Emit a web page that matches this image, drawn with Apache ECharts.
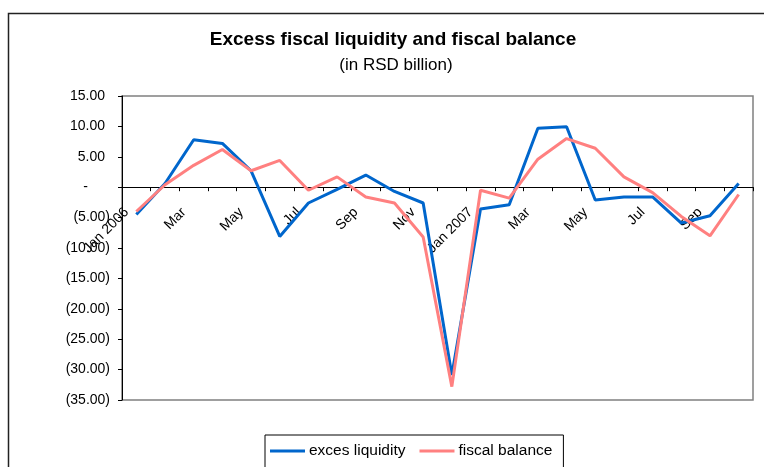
<!DOCTYPE html>
<html>
<head>
<meta charset="utf-8">
<script src="https://cdn.jsdelivr.net/npm/echarts@6/dist/echarts.min.js"></script>
<style>html,body{margin:0;padding:0;background:#fff}#c{width:764px;height:467px}</style>
</head>
<body>
<div id="c"></div>
<script>
var categories = ['Jan 2006','Feb','Mar','Apr','May','Jun','Jul','Aug','Sep','Oct','Nov','Dec',
                  'Jan 2007','Feb','Mar','Apr','May','Jun','Jul','Aug','Sep','Oct'];
var excesLiquidity = [-4.5, 0.6, 7.8, 7.2, 2.7, -8.1, -2.6, -0.35, 2.0, -0.7, -2.6, -30.9,
                      -3.6, -2.9, 9.7, 9.95, -2.1, -1.6, -1.6, -5.9, -4.7, 0.6];
var fiscalBalance = [-4.0, 0.4, 3.6, 6.2, 2.7, 4.4, -0.5, 1.7, -1.6, -2.6, -8.2, -32.8,
                     -0.5, -1.8, 4.6, 8.0, 6.4, 1.7, -0.9, -4.8, -8.0, -1.2];
var yTicks = {min: -35, max: 15, step: 5};
var seriesNames = ['exces liquidity', 'fiscal balance'];
var titleText = 'Excess fiscal liquidity and fiscal balance';
var subtitleText = '(in RSD billion)';

var FONT = 'Liberation Sans, Arial, sans-serif';
var GRID_TOP = 96, GRID_BOTTOM = 67, H = 467;
var gridH = H - GRID_TOP - GRID_BOTTOM;
// distance from the bottom of the plot to the zero line, so the category axis sits on zero
var zeroOffset = -gridH * (0 - yTicks.min) / (yTicks.max - yTicks.min);

var chart = echarts.init(document.getElementById('c'), null, {renderer: 'canvas'});
chart.setOption({
  animation: false,
  backgroundColor: '#fff',
  graphic: [
    {type: 'rect', left: 6, top: 11, shape: {width: 820, height: 520},
     style: {fill: 'none', stroke: '#222', lineWidth: 1.5}, silent: true, z: -1},
    {type: 'text', x: 393, y: 40, silent: true,
     style: {text: titleText, align: 'center', verticalAlign: 'middle',
             font: 'bold 19px ' + FONT, fill: '#000'}},
    {type: 'text', x: 396, y: 65, silent: true,
     style: {text: subtitleText, align: 'center', verticalAlign: 'middle',
             font: '17px ' + FONT, fill: '#000'}}
  ],
  grid: {left: 122, right: 11, top: GRID_TOP, bottom: GRID_BOTTOM, show: true, borderColor: '#808080', borderWidth: 1.5},
  legend: {
    data: seriesNames, top: 435, left: 265,
    icon: 'rect', itemWidth: 35, itemHeight: 3, itemGap: 14,
    padding: [8, 11, 20, 5],
    borderColor: '#000', borderWidth: 1,
    textStyle: {fontFamily: FONT, fontSize: 15.5, color: '#000', padding: [0, 0, 0, -1]}
  },
  xAxis: {
    type: 'category', data: categories, boundaryGap: true,
    position: 'bottom', offset: zeroOffset,
    axisLine: {onZero: false, lineStyle: {color: '#000', width: 1}},
    axisTick: {show: true, interval: 0, length: 4, lineStyle: {color: '#000'}},
    axisLabel: {interval: 1, rotate: 45, margin: 13, padding: [0, 14, 0, 0],
                fontFamily: FONT, fontSize: 14, color: '#000'},
    splitLine: {show: false}
  },
  yAxis: {
    type: 'value', min: yTicks.min, max: yTicks.max, interval: yTicks.step,
    axisLine: {show: true, lineStyle: {color: '#000', width: 1}},
    axisTick: {show: true, length: 4, lineStyle: {color: '#000'}},
    splitLine: {show: false},
    axisLabel: {
      margin: 12, fontFamily: FONT, fontSize: 14, color: '#000',
      formatter: function (v) {
        if (v > 0) return '{p|' + v.toFixed(2) + '}';
        if (v === 0) return '{z|-}';
        return '(' + Math.abs(v).toFixed(2) + ')';
      },
      rich: {
        p: {fontFamily: FONT, fontSize: 14, color: '#000', padding: [0, 5, 0, 0]},
        z: {fontFamily: FONT, fontSize: 14, color: '#000', padding: [0, 22, 0, 0]}
      }
    }
  },
  series: [
    {name: seriesNames[0], type: 'line', data: excesLiquidity, symbol: 'none',
     lineStyle: {color: '#0066CC', width: 3}, itemStyle: {color: '#0066CC'}},
    {name: seriesNames[1], type: 'line', data: fiscalBalance, symbol: 'none',
     lineStyle: {color: '#FF8080', width: 3}, itemStyle: {color: '#FF8080'}}
  ]
});
</script>
</body>
</html>
